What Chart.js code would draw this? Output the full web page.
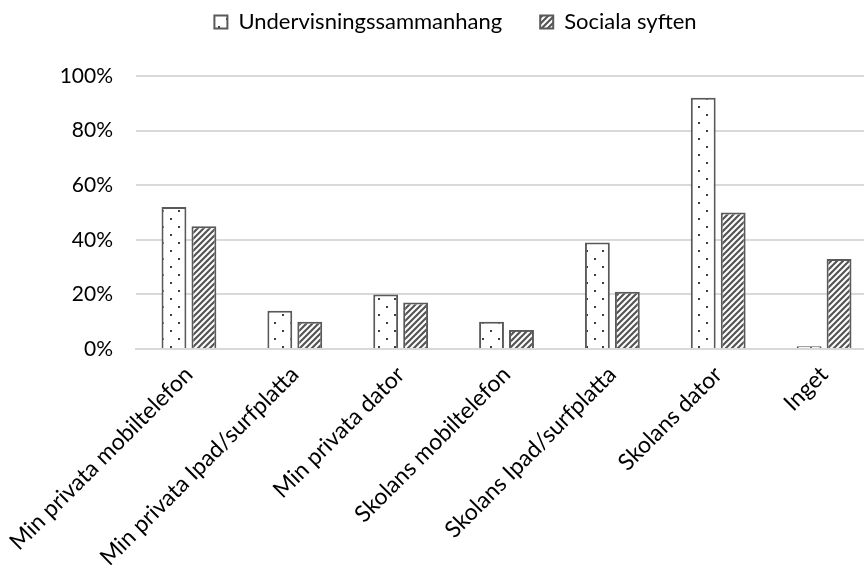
<!DOCTYPE html>
<html>
<head>
<meta charset="utf-8">
<script src="https://cdn.jsdelivr.net/npm/chart.js@4/dist/chart.umd.min.js"></script>
<style>
  html, body { margin: 0; padding: 0; background: #fff; overflow: hidden; }
  #wrap { position: relative; width: 900px; height: 565px; }
</style>
</head>
<body>
<div id="wrap"><canvas id="chart"></canvas></div>
<script>
// categories and values (percent)
const categories = ['Min privata mobiltelefon', 'Min privata Ipad/surfplatta', 'Min privata dator',
    'Skolans mobiltelefon', 'Skolans Ipad/surfplatta', 'Skolans dator', 'Inget'];
const undervisning = [52, 14, 20, 10, 39, 92, 1];
const sociala = [45, 10, 17, 7, 21, 50, 33];
const seriesNames = ['Undervisningssammanhang', 'Sociala syften'];
const yTicks = [0, 20, 40, 60, 80, 100];

const FONT = 'Lato';
const BORDER = '#595959';

//dotted pattern
function dotPattern(){
    let c = document.createElement('canvas');
    c.width = 16; c.height = 16;
    let ctx = c.getContext('2d');
    ctx.fillStyle = '#fff';
    ctx.fillRect(0, 0, 16, 16);
    ctx.fillStyle = '#404040';
    ctx.fillRect(2, 2, 2, 2);
    ctx.fillRect(10, 10, 2, 2);
    return ctx.createPattern(c, 'repeat');
}
//diagonal stripes
function stripePattern(){
    let c = document.createElement('canvas');
    c.width = 6; c.height = 6;
    let ctx = c.getContext('2d');
    ctx.fillStyle = '#fff';
    ctx.fillRect(0, 0, 6, 6);
    ctx.strokeStyle = '#555';
    ctx.lineWidth = 2.2;
    ctx.beginPath();
    ctx.moveTo(-1, 7); ctx.lineTo(7, -1);
    ctx.moveTo(-4, 4); ctx.lineTo(4, -4);
    ctx.moveTo(2, 10); ctx.lineTo(10, 2);
    ctx.stroke();
    return ctx.createPattern(c, 'repeat');
}

// make room under the legend
const legendSpace = {
    id: 'legendSpace',
    beforeInit(chart){
        const fit = chart.legend.fit;
        chart.legend.fit = function(){
            fit.bind(chart.legend)();
            this.height = 103;
        };
    }
};

let container = document.getElementById('chart');
let graph = new Chart(container, {
    type: 'bar',
    data: {
        labels: categories,
        datasets: [{
            label: seriesNames[0],
            data: undervisning,
            backgroundColor: dotPattern(),
            borderColor: BORDER,
            borderWidth: 2
        }, {
            label: seriesNames[1],
            data: sociala,
            backgroundColor: stripePattern(),
            borderColor: BORDER,
            borderWidth: 2
        }]
    },
    plugins: [legendSpace],
    options: {
        responsive: true,
        maintainAspectRatio: false,
        animation: false,
        categoryPercentage: 0.566,
        barPercentage: 0.83,
        layout: {
            padding: {top: -27, right: 23, left: 34, bottom: 0}
        },
        plugins: {
            tooltip: {enabled: false},
            legend: {
                position: 'top',
                labels: {
                    font: {family: FONT, size: 22},
                    color: '#000',
                    boxWidth: 13,
                    boxHeight: 13,
                    padding: 38
                }
            }
        },
        scales: {
            y: {
                min: 0,
                max: 100,
                afterBuildTicks: function(scale){
                    scale.ticks = yTicks.map(v => ({value: v}));
                },
                afterFit: function(scale){ scale.width = 102; },
                border: {display: false},
                grid: {color: '#d9d9d9', lineWidth: 2, drawTicks: false},
                ticks: {
                    padding: 23,
                    color: '#000',
                    font: {family: FONT, size: 21},
                    callback: v => v + '%'
                }
            },
            x: {
                afterFit: function(scale){ scale.height = 565 - 349; },
                border: {display: true, color: '#d9d9d9', width: 2},
                grid: {display: false},
                ticks: {
                    autoSkip: false,
                    maxRotation: 45,
                    minRotation: 45,
                    padding: 4,
                    color: '#000',
                    font: {family: FONT, size: 23}
                }
            }
        }
    }
});
</script>
</body>
</html>
